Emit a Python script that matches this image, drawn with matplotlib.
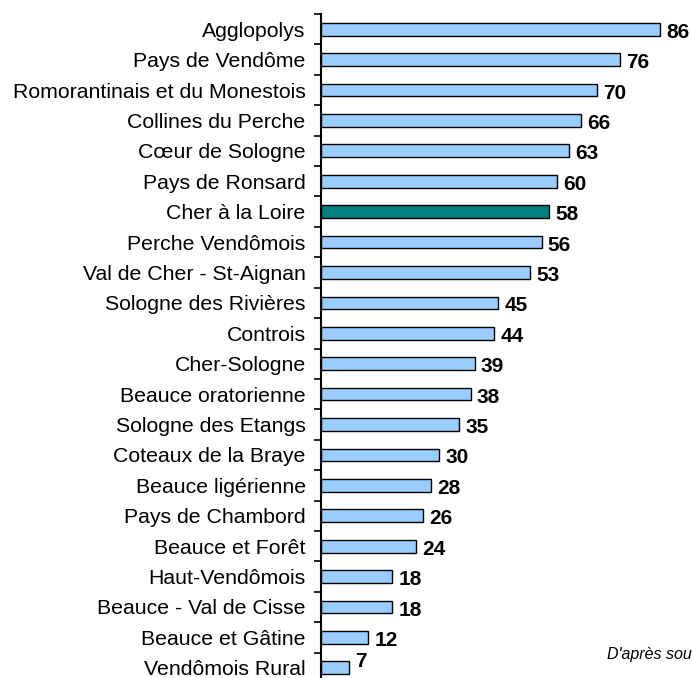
import matplotlib.pyplot as plt
import numpy as np

plt.rcParams['font.family'] = ['Liberation Sans', 'DejaVu Sans']

# territories, top to bottom
names = ['Agglopolys', 'Pays de Vendôme', 'Romorantinais et du Monestois',
         'Collines du Perche', 'Cœur de Sologne', 'Pays de Ronsard',
         'Cher à la Loire', 'Perche Vendômois', 'Val de Cher - St-Aignan',
         'Sologne des Rivières', 'Controis', 'Cher-Sologne',
         'Beauce oratorienne', 'Sologne des Etangs', 'Coteaux de la Braye',
         'Beauce ligérienne', 'Pays de Chambord', 'Beauce et Forêt',
         'Haut-Vendômois', 'Beauce - Val de Cisse', 'Beauce et Gâtine',
         'Vendômois Rural']
values = [86, 76, 70, 66, 63, 60, 58, 56, 53, 45, 44, 39, 38, 35, 30, 28,
          26, 24, 18, 18, 12, 7]
highlight = 'Cher à la Loire'

fig = plt.figure(figsize=(6.92, 6.78), dpi=100)
ax = fig.add_axes([321/692, 1 - 683/678, 1 - 321/692, 669/678])

n = len(names)
y = np.arange(n)
colors = ['#008080' if nm == highlight else '#99CCFF' for nm in names]
ax.barh(y, values, height=0.42, color=colors, edgecolor='black', linewidth=1)

# value labels, kept inside the plotting area like the original
for yi, v in zip(y, values):
    ax.text(v + 1.6, min(yi + 0.1, n - 1.22), str(v), va='center', ha='left',
            fontsize=15, fontweight='bold')

ax.set_xlim(0, 94.2)
ax.set_ylim(n - 0.5, -0.5)
ax.set_yticks(y)
ax.set_yticklabels(names, fontsize=15.3)
ax.set_yticks(np.arange(n + 1) - 0.5, minor=True)
ax.tick_params(axis='y', which='major', length=0, pad=11)
ax.tick_params(axis='y', which='minor', length=5, width=1.2, direction='out')
ax.set_xticks([])
for s in ['top', 'right', 'bottom']:
    ax.spines[s].set_visible(False)
ax.spines['left'].set_linewidth(1.5)

fig.text(607/692, 1 - 655/678, "D'après source", fontsize=11.5, style='italic',
         va='center', ha='left')

fig.savefig('out.png', dpi=100)
